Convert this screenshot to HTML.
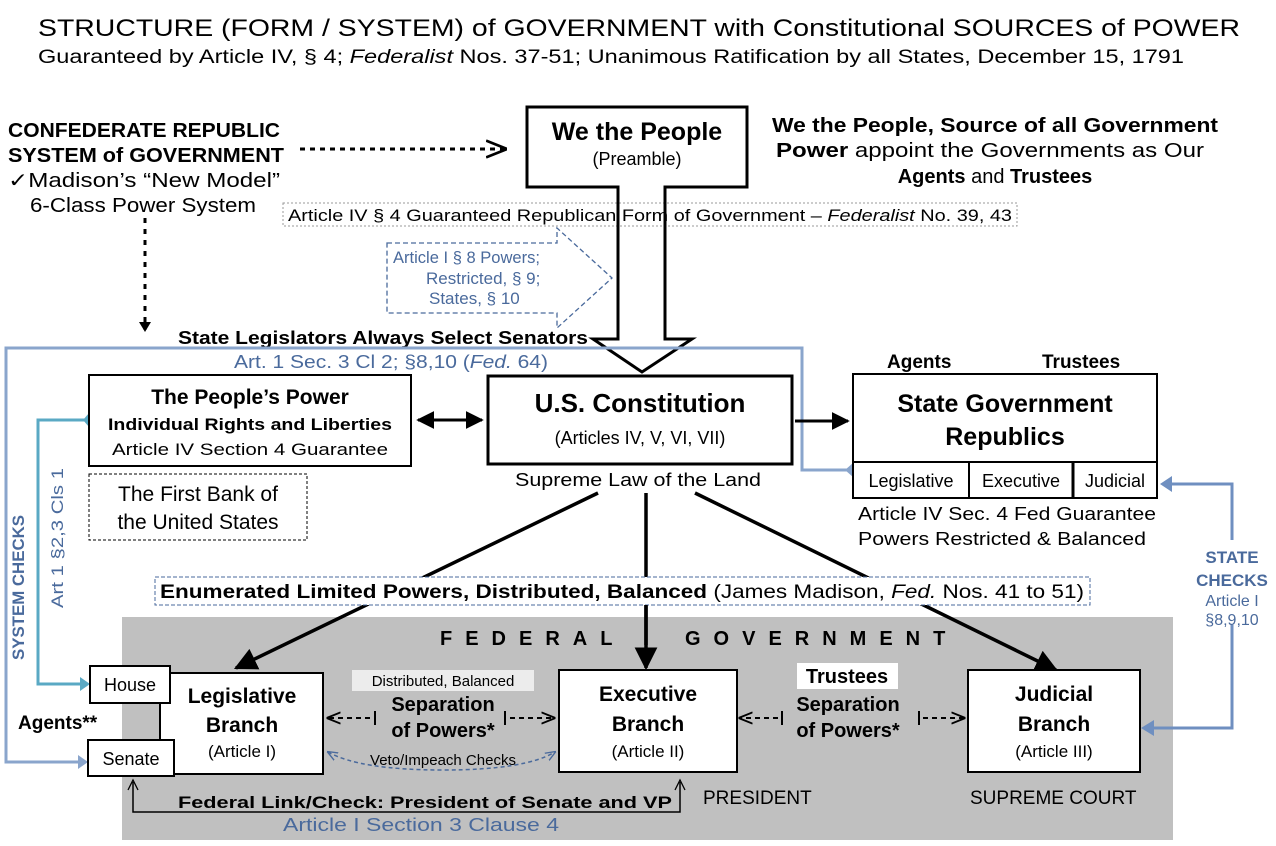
<!DOCTYPE html>
<html><head><meta charset="utf-8"><style>
html,body{margin:0;padding:0;background:#fff;}
svg{display:block;font-family:"Liberation Sans",sans-serif;}
.b{font-weight:bold}
.bl{fill:#4a6a9c}
</style></head><body>
<svg width="1276" height="846" viewBox="0 0 1276 846" xmlns="http://www.w3.org/2000/svg">
<defs>
<marker id="ah" viewBox="0 0 10 10" refX="9" refY="5" markerWidth="6" markerHeight="6" orient="auto-start-reverse"><path d="M0,0L10,5L0,10z" fill="#000"/></marker>
<marker id="ahs" viewBox="0 0 10 10" refX="9" refY="5" markerWidth="7" markerHeight="7" orient="auto"><path d="M0,1L10,5L0,9" fill="none" stroke="#000" stroke-width="1.3"/></marker>
<marker id="ahsb" viewBox="0 0 10 10" refX="9" refY="5" markerWidth="7" markerHeight="7" orient="auto-start-reverse"><path d="M0,1L10,5L0,9" fill="none" stroke="#4a6a9c" stroke-width="1.3"/></marker>
<marker id="big" viewBox="0 0 10 10" refX="9" refY="5" markerWidth="6.5" markerHeight="6.5" orient="auto"><path d="M0,0L10,5L0,10z" fill="#000"/></marker>
</defs>

<text x="38" y="36" font-size="24" textLength="1202" lengthAdjust="spacingAndGlyphs">STRUCTURE (FORM / SYSTEM) of GOVERNMENT with Constitutional SOURCES of POWER</text>
<text x="38" y="63" font-size="19" textLength="1146" lengthAdjust="spacingAndGlyphs">Guaranteed by Article IV, § 4; <tspan font-style="italic">Federalist</tspan> Nos. 37-51; Unanimous Ratification by all States, December 15, 1791</text>

<rect x="122" y="617" width="1051" height="223" fill="#c0c0c0"/>

<text x="8" y="137" font-size="20" class="b" textLength="272" lengthAdjust="spacingAndGlyphs">CONFEDERATE REPUBLIC</text>
<text x="8" y="162" font-size="20" class="b" textLength="276" lengthAdjust="spacingAndGlyphs">SYSTEM of GOVERNMENT</text>
<text x="8" y="187" font-size="20" textLength="272" lengthAdjust="spacingAndGlyphs">✓Madison’s “New Model”</text>
<text x="30" y="212" font-size="20" textLength="226" lengthAdjust="spacingAndGlyphs">6-Class Power System</text>
<line x1="300" y1="149" x2="505" y2="149" stroke="#000" stroke-width="3" stroke-dasharray="5,5" marker-end="url(#ahs)"/>
<line x1="145" y1="218" x2="145" y2="330" stroke="#000" stroke-width="3" stroke-dasharray="5,6"/>
<path d="M139,322L145,332L151,322z" fill="#000"/>

<rect x="283" y="203" width="734" height="23" fill="#fff" stroke="#999" stroke-dasharray="2,2"/>
<text x="288" y="221" font-size="17" textLength="724" lengthAdjust="spacingAndGlyphs">Article IV § 4 Guaranteed Republican Form of Government – <tspan font-style="italic">Federalist</tspan> No. 39, 43</text>

<path d="M527,107H747V187H665V339H692L642,372L593,339H618V187H527Z" fill="none" stroke="#000" stroke-width="3"/>
<rect x="529" y="109" width="216" height="76" fill="#fff"/>
<text x="637" y="140" font-size="25" class="b" text-anchor="middle">We the People</text>
<text x="637" y="165" font-size="18" text-anchor="middle">(Preamble)</text>

<text x="995" y="132" font-size="20" class="b" text-anchor="middle" textLength="446" lengthAdjust="spacingAndGlyphs">We the People, Source of all Government</text>
<text x="990" y="157" font-size="20" text-anchor="middle" textLength="428" lengthAdjust="spacingAndGlyphs"><tspan class="b">Power</tspan> appoint the Governments as Our</text>
<text x="995" y="183" font-size="20" text-anchor="middle"><tspan class="b">Agents</tspan> and <tspan class="b">Trustees</tspan></text>

<path d="M387,243H557V228L612,278L557,328V313H387Z" fill="#fff" stroke="#4a6a9c" stroke-width="1.3" stroke-dasharray="5,3"/>
<text x="393" y="263" font-size="17" class="bl" textLength="147" lengthAdjust="spacingAndGlyphs">Article I § 8 Powers;</text>
<text x="426" y="284" font-size="17" class="bl">Restricted, § 9;</text>
<text x="429" y="304" font-size="17" class="bl">States, § 10</text>

<text x="178" y="344" font-size="18" class="b" textLength="410" lengthAdjust="spacingAndGlyphs">State Legislators Always Select Senators</text>
<path d="M853,470H802V348H6V762H78" fill="none" stroke="#8aa5cc" stroke-width="3"/>
<path d="M78,755L88,762L78,769z" fill="#8aa5cc"/>
<path d="M853,463L845,470L853,477z" fill="#8aa5cc"/>
<text x="234" y="368" font-size="18" class="bl" textLength="314" lengthAdjust="spacingAndGlyphs">Art. 1 Sec. 3 Cl 2; §8,10 (<tspan font-style="italic">Fed.</tspan> 64)</text>

<path d="M89,420H38V684H80" fill="none" stroke="#5aa9c4" stroke-width="3"/>
<path d="M80,677L90,684L80,691z" fill="#5aa9c4"/>
<path d="M89,413L83,420L89,427z" fill="#5aa9c4"/>
<rect x="89" y="375" width="322" height="91" fill="#fff" stroke="#000" stroke-width="2"/>
<text x="250" y="404" font-size="21" class="b" text-anchor="middle">The People’s Power</text>
<text x="250" y="430" font-size="17" class="b" text-anchor="middle" textLength="284" lengthAdjust="spacingAndGlyphs">Individual Rights and Liberties</text>
<text x="250" y="455" font-size="17" text-anchor="middle" textLength="276" lengthAdjust="spacingAndGlyphs">Article IV Section 4 Guarantee</text>
<line x1="418" y1="420" x2="482" y2="420" stroke="#000" stroke-width="3" marker-start="url(#ah)" marker-end="url(#ah)"/>

<rect x="89" y="474" width="218" height="66" fill="#fff" stroke="#000" stroke-dasharray="3,2"/>
<text x="198" y="501" font-size="21" text-anchor="middle">The First Bank of</text>
<text x="198" y="529" font-size="21" text-anchor="middle">the United States</text>

<rect x="488" y="376" width="304" height="88" fill="#fff" stroke="#000" stroke-width="3"/>
<text x="640" y="412" font-size="26" class="b" text-anchor="middle">U.S. Constitution</text>
<text x="640" y="444" font-size="18" text-anchor="middle">(Articles IV, V, VI, VII)</text>
<text x="638" y="486" font-size="18" text-anchor="middle" textLength="246" lengthAdjust="spacingAndGlyphs">Supreme Law of the Land</text>
<line x1="795" y1="421" x2="848" y2="421" stroke="#000" stroke-width="3" marker-end="url(#ah)"/>

<text x="887" y="368" font-size="19" class="b">Agents</text>
<text x="1042" y="368" font-size="19" class="b">Trustees</text>
<rect x="853" y="374" width="304" height="124" fill="#fff" stroke="#000" stroke-width="2"/>
<line x1="853" y1="462" x2="1157" y2="462" stroke="#000" stroke-width="2"/>
<line x1="969" y1="462" x2="969" y2="498" stroke="#000" stroke-width="2"/>
<line x1="1073" y1="462" x2="1073" y2="498" stroke="#000" stroke-width="3"/>
<text x="1005" y="412" font-size="25" class="b" text-anchor="middle">State Government</text>
<text x="1005" y="445" font-size="25" class="b" text-anchor="middle">Republics</text>
<text x="911" y="487" font-size="18" text-anchor="middle">Legislative</text>
<text x="1021" y="487" font-size="18" text-anchor="middle">Executive</text>
<text x="1115" y="487" font-size="18" text-anchor="middle">Judicial</text>
<text x="858" y="520" font-size="18" textLength="298" lengthAdjust="spacingAndGlyphs">Article IV Sec. 4 Fed Guarantee</text>
<text x="858" y="545" font-size="18" textLength="288" lengthAdjust="spacingAndGlyphs">Powers Restricted &amp; Balanced</text>

<path d="M1170,484H1232V540M1232,625V728H1152" fill="none" stroke="#6f8fc0" stroke-width="3"/>
<path d="M1172,476L1160,484L1172,492z" fill="#6f8fc0"/>
<path d="M1154,720L1141,728L1154,736z" fill="#6f8fc0"/>
<text x="1232" y="563" font-size="17" class="b bl" text-anchor="middle">STATE</text>
<text x="1232" y="586" font-size="17" class="b bl" text-anchor="middle">CHECKS</text>
<text x="1232" y="606" font-size="16" class="bl" text-anchor="middle">Article I</text>
<text x="1232" y="625" font-size="16" class="bl" text-anchor="middle">§8,9,10</text>

<text transform="translate(24,660) rotate(-90)" font-size="17" class="b bl" textLength="145" lengthAdjust="spacingAndGlyphs">SYSTEM CHECKS</text>
<text transform="translate(63,608) rotate(-90)" font-size="17" class="bl" textLength="140" lengthAdjust="spacingAndGlyphs">Art 1 §2,3 Cls 1</text>

<line x1="598" y1="493" x2="236" y2="668" stroke="#000" stroke-width="3.5" marker-end="url(#big)"/>
<line x1="646" y1="493" x2="646" y2="668" stroke="#000" stroke-width="3.5" marker-end="url(#big)"/>
<line x1="695" y1="493" x2="1056" y2="670" stroke="#000" stroke-width="3.5" marker-end="url(#big)"/>

<rect x="155" y="577" width="935" height="28" fill="#fff" stroke="#4a6a9c" stroke-dasharray="4,2"/>
<text x="160" y="598" font-size="19" textLength="924" lengthAdjust="spacingAndGlyphs"><tspan class="b">Enumerated Limited Powers, Distributed, Balanced</tspan> (James Madison, <tspan font-style="italic">Fed.</tspan> Nos. 41 to 51)</text>

<text x="440" y="645" font-size="20" class="b" letter-spacing="13">FEDERAL</text>
<text x="685" y="645" font-size="20" class="b" letter-spacing="13">GOVERNMENT</text>
<line x1="646" y1="605" x2="646" y2="645" stroke="#000" stroke-width="3.5"/>

<rect x="160" y="673" width="163" height="101" fill="#fff" stroke="#000" stroke-width="2"/>
<rect x="90" y="666" width="80" height="37" fill="#fff" stroke="#000" stroke-width="2"/>
<text x="130" y="691" font-size="18" text-anchor="middle">House</text>
<rect x="88" y="740" width="86" height="36" fill="#fff" stroke="#000" stroke-width="2"/>
<text x="131" y="765" font-size="18" text-anchor="middle">Senate</text>
<text x="18" y="729" font-size="19" class="b">Agents**</text>
<text x="242" y="703" font-size="21" class="b" text-anchor="middle">Legislative</text>
<text x="242" y="732" font-size="21" class="b" text-anchor="middle">Branch</text>
<text x="242" y="757" font-size="17" text-anchor="middle">(Article I)</text>

<rect x="352" y="670" width="182" height="21" fill="#ececec"/>
<text x="443" y="686" font-size="15" text-anchor="middle">Distributed,  Balanced</text>
<text x="443" y="711" font-size="20" class="b" text-anchor="middle">Separation</text>
<text x="443" y="737" font-size="20" class="b" text-anchor="middle">of Powers*</text>
<line x1="370" y1="718" x2="328" y2="718" stroke="#000" stroke-width="2" stroke-dasharray="5,4" marker-end="url(#ahs)"/>
<line x1="375" y1="711" x2="375" y2="725" stroke="#000" stroke-width="2"/>
<line x1="510" y1="718" x2="554" y2="718" stroke="#000" stroke-width="2" stroke-dasharray="5,4" marker-end="url(#ahs)"/>
<line x1="505" y1="711" x2="505" y2="725" stroke="#000" stroke-width="2"/>
<path d="M328,752Q360,770 443,770Q525,770 555,752" fill="none" stroke="#4a6a9c" stroke-width="1.5" stroke-dasharray="4,3" marker-start="url(#ahsb)" marker-end="url(#ahsb)"/>
<text x="443" y="765" font-size="15" text-anchor="middle">Veto/Impeach Checks</text>

<rect x="559" y="670" width="178" height="102" fill="#fff" stroke="#000" stroke-width="2"/>
<text x="648" y="701" font-size="21" class="b" text-anchor="middle">Executive</text>
<text x="648" y="731" font-size="21" class="b" text-anchor="middle">Branch</text>
<text x="648" y="757" font-size="17" text-anchor="middle">(Article II)</text>

<rect x="797" y="663" width="101" height="26" fill="#fff"/>
<text x="847" y="683" font-size="20" class="b" text-anchor="middle">Trustees</text>
<text x="848" y="711" font-size="20" class="b" text-anchor="middle">Separation</text>
<text x="848" y="737" font-size="20" class="b" text-anchor="middle">of Powers*</text>
<line x1="778" y1="718" x2="740" y2="718" stroke="#000" stroke-width="2" stroke-dasharray="5,4" marker-end="url(#ahs)"/>
<line x1="782" y1="711" x2="782" y2="725" stroke="#000" stroke-width="2"/>
<line x1="923" y1="718" x2="964" y2="718" stroke="#000" stroke-width="2" stroke-dasharray="5,4" marker-end="url(#ahs)"/>
<line x1="919" y1="711" x2="919" y2="725" stroke="#000" stroke-width="2"/>

<rect x="968" y="670" width="172" height="102" fill="#fff" stroke="#000" stroke-width="2"/>
<text x="1054" y="701" font-size="21" class="b" text-anchor="middle">Judicial</text>
<text x="1054" y="731" font-size="21" class="b" text-anchor="middle">Branch</text>
<text x="1054" y="757" font-size="17" text-anchor="middle">(Article III)</text>

<text x="703" y="804" font-size="19">PRESIDENT</text>
<text x="970" y="804" font-size="19">SUPREME COURT</text>

<path d="M133,782V812H680V782" fill="none" stroke="#000" stroke-width="1.5"/>
<path d="M128,790L133,780L138,790M675,790L680,780L685,790" fill="none" stroke="#000" stroke-width="1.3"/>
<text x="178" y="808" font-size="17" class="b" textLength="494" lengthAdjust="spacingAndGlyphs">Federal Link/Check: President of Senate and VP</text>
<text x="283" y="831" font-size="18" class="bl" textLength="276" lengthAdjust="spacingAndGlyphs">Article I Section 3 Clause 4</text>
</svg>
</body></html>
